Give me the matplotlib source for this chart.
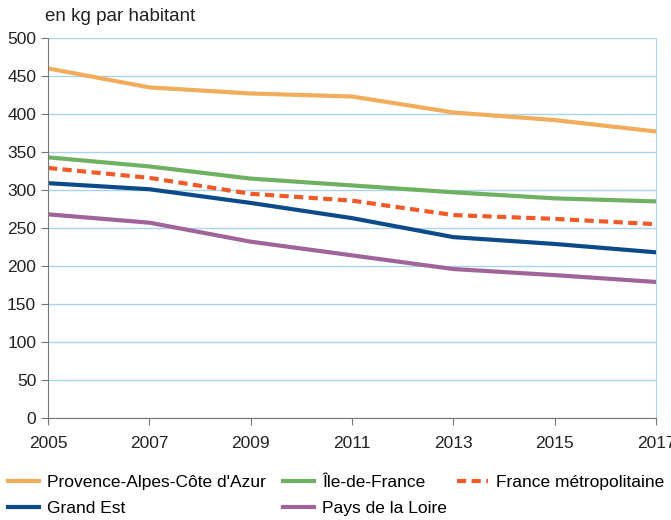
import matplotlib
matplotlib.use('Agg')
import matplotlib.pyplot as plt

plt.rcParams['font.family'] = ['Liberation Sans', 'DejaVu Sans']

annees = [2005, 2007, 2009, 2011, 2013, 2015, 2017]
paca = [460, 435, 427, 423, 402, 392, 377]
idf = [343, 331, 315, 306, 297, 289, 285]
france = [329, 316, 295, 286, 267, 262, 255]
grand_est = [309, 301, 283, 263, 238, 229, 218]
pays_loire = [268, 257, 232, 214, 196, 188, 179]

fig = plt.figure(figsize=(6.71, 5.2), dpi=100)
ax = fig.add_axes([48/671, 1 - 418/520, (656-48)/671, 380/520])

l1, = ax.plot(annees, paca, color='#f2ad5c', lw=3, label="Provence-Alpes-Côte d'Azur")
l2, = ax.plot(annees, idf, color='#6fb162', lw=3, label='Île-de-France')
l3, = ax.plot(annees, france, color='#f05a28', lw=3, ls=(0, (2.2, 1.3)), label='France métropolitaine')
l4, = ax.plot(annees, grand_est, color='#0c4a8a', lw=3, label='Grand Est')
l5, = ax.plot(annees, pays_loire, color='#a0649a', lw=3, label='Pays de la Loire')

ax.set_xlim(2005, 2017)
ax.set_ylim(0, 500)
ax.set_xticks(annees)
ax.set_yticks(range(0, 501, 50))
ax.grid(axis='y', color='#a8d4ee', lw=1)
ax.set_axisbelow(True)
ax.spines['top'].set_visible(False)
ax.spines['right'].set_color('#a8d4ee')
ax.spines['left'].set_color('#777777')
ax.spines['bottom'].set_color('#777777')
ax.tick_params(colors='#777777', labelcolor='#222222', labelsize=12.5, length=5)
ax.tick_params(axis='x', pad=8)
ax.text(-0.005, 1.035, 'en kg par habitant', transform=ax.transAxes, fontsize=13.5, color='#222222', va='bottom')

# legende en trois colonnes placees a la main
opts = dict(loc='upper left', frameon=False, fontsize=12.5, handlelength=1.8,
            labelspacing=0.6, handletextpad=0.45, borderpad=0, borderaxespad=0)
for hs, x in [([l1, l4], 8), ([l2, l5], 283), ([l3], 457)]:
    fig.legend(hs, [h.get_label() for h in hs], bbox_to_anchor=(x/671, 1 - 475/520), **opts)

fig.savefig('out.png', dpi=100)
